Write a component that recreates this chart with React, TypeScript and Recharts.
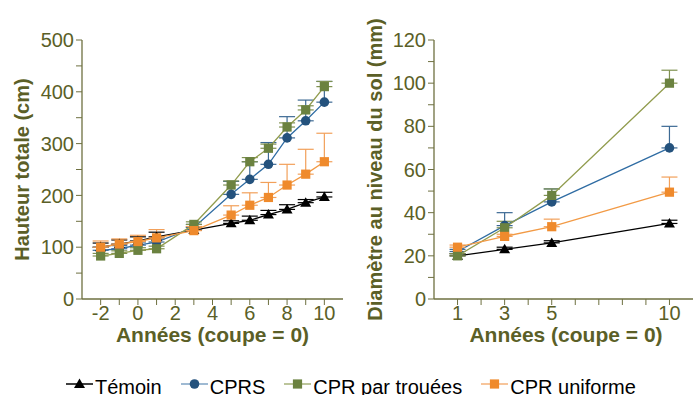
import React from 'react';
import { LineChart, Line, XAxis, YAxis, ErrorBar } from 'recharts';

// ---------- Data ----------
const yearsA = [-2, -1, 0, 1, 3, 5, 6, 7, 8, 9, 10];
const temoinA = [100, 106, 112, 120, 133, 146, 152, 163, 173, 186, 197];
const temoinAErr = [8, 8, 8, 9, 6, 5, 8, 8, 9, 6, 9];
const cprsA = [94, 97, 104, 110, 138, 202, 231, 260, 311, 344, 380];
const cprsAErr = [6, 6, 6, 6, 6, 25, 34, 42, 41, 40, 40];
const troueesA = [83, 88, 94, 97, 144, 220, 265, 291, 332, 365, 410];
const troueesAErr = [5, 5, 5, 5, 5, 8, 8, 8, 8, 8, 10];
const uniformeA = [100, 106, 111, 118, 132, 162, 181, 196, 220, 241, 265];
const uniformeAErr = [12, 10, 12, 16, 8, 18, 24, 29, 40, 48, 55];

const yearsB = [1, 3, 5, 10];
const temoinB = [20, 23, 26, 35];
const temoinBErr = [1, 1, 1, 1.5];
const cprsB = [22, 34, 45, 70];
const cprsBErr = [1, 6, 6, 10];
const troueesB = [20, 33, 48, 100];
const troueesBErr = [1, 3, 3, 6];
const uniformeB = [24, 29, 33.5, 49.5];
const uniformeBErr = [1, 1, 3.5, 7];

const xTicksA = [-2, -1, 0, 1, 2, 3, 4, 5, 6, 7, 8, 9, 10];
const yTicksA = [0, 50, 100, 150, 200, 250, 300, 350, 400, 450, 500];
const xTicksB = [1, 2, 3, 4, 5, 6, 7, 8, 9, 10];
const xLabelsB = [1, 3, 5, 10];
const yTicksB = [0, 10, 20, 30, 40, 50, 60, 70, 80, 90, 100, 110, 120];
const yRightTicksB = [0, 20, 40, 60, 80, 100, 120];

const seriesNames = ['Témoin', 'CPRS', 'CPR par trouées', 'CPR uniforme'];

// ---------- Styles ----------
const OLIVE = '#5b5f27';
const AXIS = '#6e7040';
const BORDER = '#9a9b78';
const BLACK = '#000000';
const BLUE_M = '#24527d';
const BLUE_L = '#2f6ca3';
const GREEN_M = '#6b8240';
const GREEN_L = '#919c4e';
const ORANGE_M = '#ef8a2c';
const ORANGE_L = '#f29a45';

const dataA = yearsA.map((x, i) => ({
  x,
  t: temoinA[i], tE: [0, temoinAErr[i]],
  c: cprsA[i], cE: [0, cprsAErr[i]],
  g: troueesA[i], gE: [0, troueesAErr[i]],
  u: uniformeA[i], uE: [0, uniformeAErr[i]],
}));
const dataB = yearsB.map((x, i) => ({
  x,
  t: temoinB[i], tE: [0, temoinBErr[i]],
  c: cprsB[i], cE: [0, cprsBErr[i]],
  g: troueesB[i], gE: [0, troueesBErr[i]],
  u: uniformeB[i], uE: [0, uniformeBErr[i]],
}));

type Shape = 'tri' | 'circle' | 'square';
const Marker = ({ shape, cx, cy, fill }: { shape: Shape; cx: number; cy: number; fill: string }) => {
  if (shape === 'tri')
    return <polygon points={`${cx},${cy - 5.5} ${cx - 5.5},${cy + 4} ${cx + 5.5},${cy + 4}`} fill={fill} />;
  if (shape === 'circle') return <circle cx={cx} cy={cy} r={4.8} fill={fill} />;
  return <rect x={cx - 4.6} y={cy - 4.6} width={9.2} height={9.2} fill={fill} />;
};
const makeDot = (shape: Shape, fill: string) => (p: any) => {
  if (p.cx == null || p.cy == null) return <g key={`d-${p.index}`} />;
  return (
    <g key={`d-${shape}-${p.index}`}>
      <Marker shape={shape} cx={p.cx} cy={p.cy} fill={fill} />
    </g>
  );
};

const VTitle = ({ text, px, py }: any) => (
  <text x={px} y={py} transform={`rotate(-90 ${px} ${py})`} textAnchor="middle" dominantBaseline="central"
    fill={OLIVE} fontSize={20} fontWeight="bold">{text}</text>
);
const HTitle = ({ text, px, py }: any) => (
  <text x={px} y={py} textAnchor="middle" fill={OLIVE} fontSize={21} fontWeight="bold">{text}</text>
);
const PanelTag = ({ text, px, py }: any) => (
  <text x={px} y={py} fill={OLIVE} fontSize={20} fontWeight="bold">{text}</text>
);

const renderSeries = () => [
  <Line key="t" dataKey="t" stroke={BLACK} strokeWidth={1.3} isAnimationActive={false}
    dot={makeDot('tri', BLACK)} activeDot={false}>
    <ErrorBar dataKey="tE" width={8} stroke={BLACK} strokeWidth={1.2} direction="y" />
  </Line>,
  <Line key="c" dataKey="c" stroke={BLUE_L} strokeWidth={1.3} isAnimationActive={false}
    dot={makeDot('circle', BLUE_M)} activeDot={false}>
    <ErrorBar dataKey="cE" width={8} stroke="#3d6a94" strokeWidth={1.2} direction="y" />
  </Line>,
  <Line key="g" dataKey="g" stroke={GREEN_L} strokeWidth={1.3} isAnimationActive={false}
    dot={makeDot('square', GREEN_M)} activeDot={false}>
    <ErrorBar dataKey="gE" width={8} stroke="#7f9150" strokeWidth={1.2} direction="y" />
  </Line>,
  <Line key="u" dataKey="u" stroke={ORANGE_L} strokeWidth={1.3} isAnimationActive={false}
    dot={makeDot('square', ORANGE_M)} activeDot={false}>
    <ErrorBar dataKey="uE" width={8} stroke="#f2a05a" strokeWidth={1.2} direction="y" />
  </Line>,
];

const tickStyle = { fill: OLIVE, fontSize: 20 };

const LegendIcon = ({ shape, line, fill }: { shape: Shape; line: string; fill: string }) => (
  <svg width={27} height={20} style={{ display: 'block' }}>
    <line x1={0} x2={27} y1={7} y2={7} stroke={line} strokeWidth={1.5} />
    <Marker shape={shape} cx={13.5} cy={7} fill={fill} />
  </svg>
);

const legendItems: { shape: Shape; line: string; fill: string }[] = [
  { shape: 'tri', line: BLACK, fill: BLACK },
  { shape: 'circle', line: '#7fa3c4', fill: BLUE_M },
  { shape: 'square', line: '#a6b27a', fill: GREEN_M },
  { shape: 'square', line: '#f5b27a', fill: ORANGE_M },
];

export default function App() {
  return (
    <div style={{ position: 'absolute', left: 0, top: 0, width: 694, height: 395, overflow: 'hidden', background: '#fff', fontFamily: '"Liberation Sans", Arial, sans-serif' }}>
      <div style={{ position: 'absolute', left: 0, top: 0 }}>
        <LineChart width={350} height={349} data={dataA} margin={{ top: 40, right: 7, bottom: 0, left: 0 }}>
          <XAxis dataKey="x" type="number" domain={[-3, 11]} ticks={xTicksA} interval={0}
            tickFormatter={(v: number) => (v % 2 === 0 ? String(v) : '')}
            tick={tickStyle} tickSize={6} tickMargin={1} height={50}
            axisLine={{ stroke: AXIS, strokeWidth: 1.3 }} tickLine={{ stroke: AXIS }}
            label={<HTitle text="Années (coupe = 0)" px={212.5} py={342} />} />
          <XAxis xAxisId="top" orientation="top" dataKey="x" type="number" domain={[-3, 11]} height={0}
            tick={false} tickLine={false} axisLine={{ stroke: BORDER, strokeWidth: 1.3 }}
            label={<PanelTag text="A)" px={93} py={63} />} />
          <YAxis type="number" domain={[0, 500]} ticks={yTicksA} interval={0} width={82}
            tickFormatter={(v: number) => (v % 100 === 0 ? String(v) : '')}
            tick={tickStyle} tickSize={6} tickMargin={2}
            axisLine={{ stroke: AXIS, strokeWidth: 1.3 }} tickLine={{ stroke: AXIS }}
            label={<VTitle text="Hauteur totale (cm)" px={22} py={169.5} />} />
          <YAxis yAxisId="r" orientation="right" type="number" domain={[0, 500]} ticks={yTicksA} interval={0}
            width={0} mirror tick={false} tickSize={5}
            axisLine={{ stroke: BORDER, strokeWidth: 1.3 }} tickLine={{ stroke: AXIS }} />
          {renderSeries()}
        </LineChart>
      </div>
      <div style={{ position: 'absolute', left: 350, top: 0 }}>
        <LineChart width={344} height={349} data={dataB} margin={{ top: 40, right: 1, bottom: 0, left: 0 }}>
          <XAxis dataKey="x" type="number" domain={[0, 11]} ticks={xTicksB} interval={0}
            tickFormatter={(v: number) => (xLabelsB.includes(v) ? String(v) : '')}
            tick={tickStyle} tickSize={6} tickMargin={1} height={50}
            axisLine={{ stroke: AXIS, strokeWidth: 1.3 }} tickLine={{ stroke: AXIS }}
            label={<HTitle text="Années (coupe = 0)" px={216} py={342} />} />
          <XAxis xAxisId="top" orientation="top" dataKey="x" type="number" domain={[0, 11]} height={0}
            tick={false} tickLine={false} axisLine={{ stroke: BORDER, strokeWidth: 1.3 }}
            label={<PanelTag text="B)" px={96} py={63} />} />
          <YAxis type="number" domain={[0, 120]} ticks={yTicksB} interval={0} width={84}
            tickFormatter={(v: number) => (v % 20 === 0 ? String(v) : '')}
            tick={tickStyle} tickSize={6} tickMargin={2}
            axisLine={{ stroke: AXIS, strokeWidth: 1.3 }} tickLine={{ stroke: AXIS }}
            label={<VTitle text="Diamètre au niveau du sol (mm)" px={25} py={169.5} />} />
          <YAxis yAxisId="r" orientation="right" type="number" domain={[0, 120]} ticks={yRightTicksB} interval={0}
            width={0} mirror tick={false} tickSize={5}
            axisLine={{ stroke: BORDER, strokeWidth: 1.3 }} tickLine={{ stroke: AXIS }} />
          {renderSeries()}
        </LineChart>
      </div>
      <div style={{ position: 'absolute', left: 66, top: 377, display: 'flex', alignItems: 'center', gap: 19, fontSize: 20, lineHeight: '20px', color: '#000', whiteSpace: 'nowrap' }}>
        {seriesNames.map((name, i) => (
          <div key={name} style={{ display: 'flex', alignItems: 'center' }}>
            <LegendIcon {...legendItems[i]} />
            <span style={{ marginLeft: 2 }}>{name}</span>
          </div>
        ))}
      </div>
    </div>
  );
}
